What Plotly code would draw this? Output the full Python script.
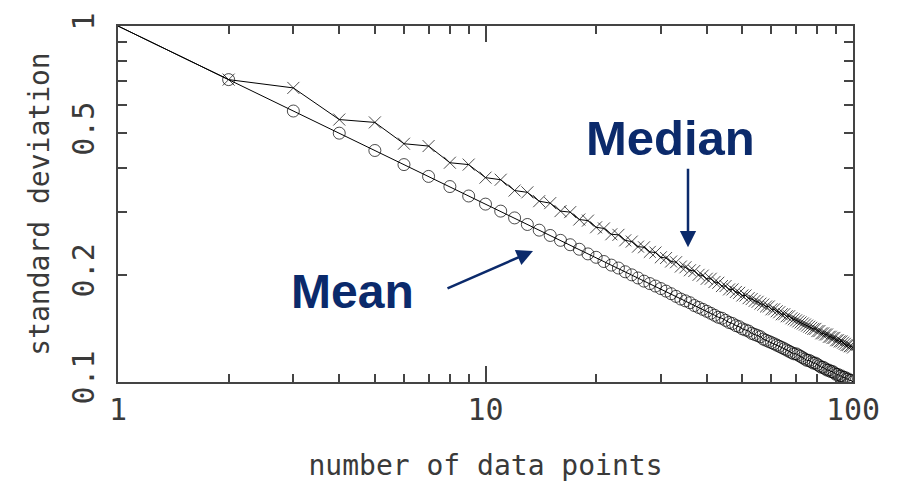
import plotly.graph_objects as go

# number of data points
n_points = list(range(1, 101))

# standard deviation of the mean
sd_mean = [
    1.000, 0.707, 0.577, 0.500, 0.447, 0.408, 0.378, 0.354, 0.333, 0.316,
    0.302, 0.289, 0.277, 0.267, 0.258, 0.250, 0.243, 0.236, 0.229, 0.224,
    0.218, 0.213, 0.209, 0.204, 0.200, 0.196, 0.192, 0.189, 0.186, 0.183,
    0.180, 0.177, 0.174, 0.171, 0.169, 0.167, 0.164, 0.162, 0.160, 0.158,
    0.156, 0.154, 0.152, 0.151, 0.149, 0.147, 0.146, 0.144, 0.143, 0.141,
    0.140, 0.139, 0.137, 0.136, 0.135, 0.134, 0.132, 0.131, 0.130, 0.129,
    0.128, 0.127, 0.126, 0.125, 0.124, 0.123, 0.122, 0.121, 0.120, 0.120,
    0.119, 0.118, 0.117, 0.116, 0.115, 0.115, 0.114, 0.113, 0.113, 0.112,
    0.111, 0.110, 0.110, 0.109, 0.108, 0.108, 0.107, 0.107, 0.106, 0.105,
    0.105, 0.104, 0.104, 0.103, 0.103, 0.102, 0.102, 0.101, 0.101, 0.100,
]

# standard deviation of the median
sd_median = [
    1.000, 0.707, 0.670, 0.546, 0.536, 0.467, 0.460, 0.413, 0.408, 0.375,
    0.370, 0.345, 0.341, 0.322, 0.318, 0.302, 0.300, 0.286, 0.284, 0.272,
    0.270, 0.260, 0.259, 0.250, 0.248, 0.240, 0.239, 0.232, 0.231, 0.224,
    0.223, 0.218, 0.217, 0.211, 0.210, 0.206, 0.205, 0.200, 0.199, 0.195,
    0.195, 0.191, 0.190, 0.186, 0.186, 0.182, 0.182, 0.179, 0.178, 0.175,
    0.175, 0.172, 0.171, 0.169, 0.168, 0.166, 0.165, 0.163, 0.163, 0.160,
    0.160, 0.158, 0.157, 0.155, 0.155, 0.153, 0.153, 0.151, 0.150, 0.149,
    0.148, 0.147, 0.146, 0.145, 0.144, 0.143, 0.142, 0.141, 0.141, 0.139,
    0.139, 0.137, 0.137, 0.136, 0.136, 0.134, 0.134, 0.133, 0.133, 0.131,
    0.131, 0.130, 0.130, 0.129, 0.128, 0.127, 0.127, 0.126, 0.126, 0.125,
]

x_major = [1, 10, 100]
x_major_text = ["1", "10", "100"]
x_minor = [2, 3, 4, 5, 6, 7, 8, 9, 20, 30, 40, 50, 60, 70, 80, 90]
y_major = [0.1, 0.2, 0.5, 1]
y_major_text = ["0.1", "0.2", "0.5", "1"]
y_minor = [0.3, 0.4, 0.6, 0.7, 0.8, 0.9]

marker_sizes = [0] + [12] * (len(n_points) - 1)

AX = "#444444"
TXT = "#3a3a3a"
NAVY = "#0b2a6b"
MONO = "DejaVu Sans Mono"

fig = go.Figure()
fig.add_trace(go.Scatter(
    x=n_points, y=sd_median, mode="lines+markers",
    line=dict(color="black", width=1),
    marker=dict(symbol="x-thin-open", size=marker_sizes, color="black",
                line=dict(color="black", width=1)),
    showlegend=False,
))
fig.add_trace(go.Scatter(
    x=n_points, y=sd_mean, mode="lines+markers",
    line=dict(color="black", width=1),
    marker=dict(symbol="circle-open", size=marker_sizes, color="black",
                line=dict(color="black", width=1)),
    showlegend=False,
))

fig.update_layout(
    width=901, height=498,
    margin=dict(l=118, r=48, t=15, b=116),
    paper_bgcolor="white", plot_bgcolor="white",
    xaxis=dict(
        type="log", range=[0, 2],
        tickmode="array", tickvals=x_major, ticktext=x_major_text,
        ticks="inside", ticklen=16, tickwidth=1.5, tickcolor=AX,
        minor=dict(tickmode="array", tickvals=x_minor, ticks="inside",
                   ticklen=8, tickwidth=1.5, tickcolor=AX, showgrid=False),
        showline=True, linecolor=AX, linewidth=1.5, mirror="ticks",
        showgrid=False, zeroline=False,
        tickfont=dict(family=MONO, size=30, color=TXT),
        title=dict(text="number of data points",
                   font=dict(family=MONO, size=28, color=TXT), standoff=30),
    ),
    yaxis=dict(
        type="log", range=[-1, 0],
        tickmode="array", tickvals=y_major, ticktext=y_major_text,
        ticks="inside", ticklen=9, tickwidth=1.5, tickcolor=AX,
        minor=dict(tickmode="array", tickvals=y_minor, ticks="inside",
                   ticklen=9, tickwidth=1.5, tickcolor=AX, showgrid=False),
        showline=True, linecolor=AX, linewidth=1.5, mirror="ticks",
        showgrid=False, zeroline=False, tickangle=-90, ticklabelstandoff=10,
        tickfont=dict(family=MONO, size=30, color=TXT),
        title=dict(text="standard deviation",
                   font=dict(family=MONO, size=28, color=TXT), standoff=8),
    ),
)

# labels
fig.add_annotation(text="<b>Mean</b>", xref="paper", yref="paper",
                   x=(352 - 118) / 735, y=(382 - 289) / 367, showarrow=False,
                   xanchor="center", yanchor="middle",
                   font=dict(family="Liberation Sans", size=48, color=NAVY))
fig.add_annotation(text="<b>Median</b>", xref="paper", yref="paper",
                   x=(670 - 118) / 735, y=(382 - 130) / 367, showarrow=False,
                   xanchor="center", yanchor="middle",
                   font=dict(family="Liberation Sans", size=49, color=NAVY))
# arrows
fig.add_annotation(text="", xref="paper", yref="paper",
                   x=(533 - 118) / 735, y=(382 - 247) / 367,
                   ax=-87, ay=38, showarrow=True, arrowhead=2,
                   arrowsize=1.3, arrowwidth=2.5, arrowcolor=NAVY)
fig.add_annotation(text="", xref="paper", yref="paper",
                   x=(688 - 118) / 735, y=(382 - 243) / 367,
                   ax=0, ay=-80, showarrow=True, arrowhead=2,
                   arrowsize=1.3, arrowwidth=2.5, arrowcolor=NAVY)

fig.write_html("out.html")
